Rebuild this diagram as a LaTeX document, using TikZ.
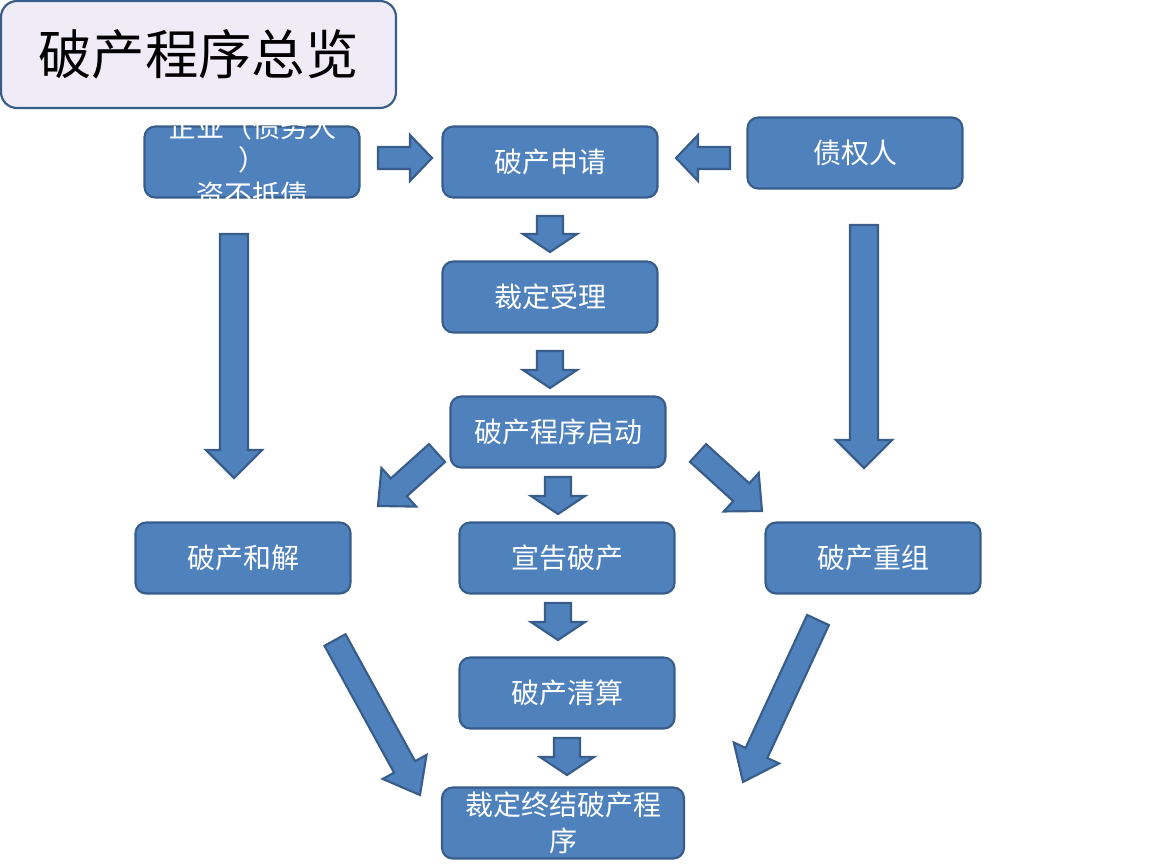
\documentclass[tikz,border=0pt]{standalone}
\usepackage{fontspec}
\setmainfont{Noto Sans CJK SC}
\begin{document}
\begin{tikzpicture}[x=0.75pt,y=-0.75pt,
 box/.style={draw=black!20!blue!40!gray,fill=blue!10!cyan!30!blue!50!white,line width=1.6pt,rounded corners=8pt,text=white,font=\fontsize{21}{25}\selectfont,inner sep=0pt,align=center},
 barrow/.style={draw=bdr,fill=bfill,line width=1.6pt,line join=miter}]
\definecolor{bfill}{HTML}{4F81BD}\definecolor{bdr}{HTML}{385D8A}
\tikzset{box/.style={draw=bdr,fill=bfill,line width=1.6pt,rounded corners=8pt,text=white,font=\fontsize{21}{25}\selectfont,inner sep=0pt,align=center,minimum width=215*0.75pt,minimum height=71*0.75pt}}
\newcommand\barr[7]{%
 \pgfmathsetmacro\ang{atan2(#4-#2,#3-#1)}%
 \pgfmathsetmacro\len{veclen(#3-#1,#4-#2)}%
 \draw[barrow, shift={(#1,#2)}, rotate=-\ang] (0,-#5/2) -- (\len-#7,-#5/2) -- (\len-#7,-#6/2) -- (\len,0) -- (\len-#7,#6/2) -- (\len-#7,#5/2) -- (0,#5/2) -- cycle;}
\useasboundingbox (0,0) rectangle (1152,864);
% nodes
\node[box] (ent) at (252,162) {};
\begin{scope}
\clip (140,108) rectangle (370,200);
\node[text=white,font=\fontsize{21}{25}\selectfont] at (252,127) {企业（债务人};
\node[text=white,font=\fontsize{21}{25}\selectfont] at (252,160) {）};
\node[text=white,font=\fontsize{21}{25}\selectfont] at (252,195) {资不抵债};
\end{scope}
\node[box] (app) at (550,162) {破产申请};
\node[box] (cred) at (855,153) {债权人};
\node[box] (acc) at (550,297) {裁定受理};
\node[box] (start) at (558,432) {破产程序启动};
\node[box] (rec) at (243,558) {破产和解};
\node[box] (dec) at (567,558) {宣告破产};
\node[box] (reorg) at (873,558) {破产重组};
\node[box] (liq) at (567,693) {破产清算};
\node[box,minimum width=242*0.75pt,font=\fontsize{21}{27}\selectfont] (end) at (563,823) {裁定终结破产程\\序};
% arrows
\barr{378}{158}{432}{158}{22}{46}{22}
\barr{730}{158}{676}{158}{22}{46}{22}
\barr{550}{216}{550}{252}{26}{54}{18}
\barr{550}{351}{550}{388}{26}{54}{18}
\barr{558}{477}{558}{514}{26}{54}{18}
\barr{558}{603}{558}{640}{26}{54}{18}
\barr{567}{738}{567}{775}{26}{54}{18}
\barr{234}{234}{234}{478}{28}{56}{28}
\barr{864}{225}{864}{468}{28}{56}{28}
\barr{437}{453}{378}{506}{24}{52}{28}
\barr{698}{453}{762}{511}{24}{52}{28}
\barr{335}{640}{420}{795}{24}{50}{32}
\barr{818}{620}{743}{782}{24}{50}{32}
% title
\node[draw=bdr,fill=cyan!8!blue!6!white,line width=1.6pt,rounded corners=12pt,minimum width=395*0.75pt,minimum height=107*0.75pt,font=\fontsize{40}{44}\selectfont] (title) at (198.5,54.5) {破产程序总览};
\end{tikzpicture}
\end{document}
